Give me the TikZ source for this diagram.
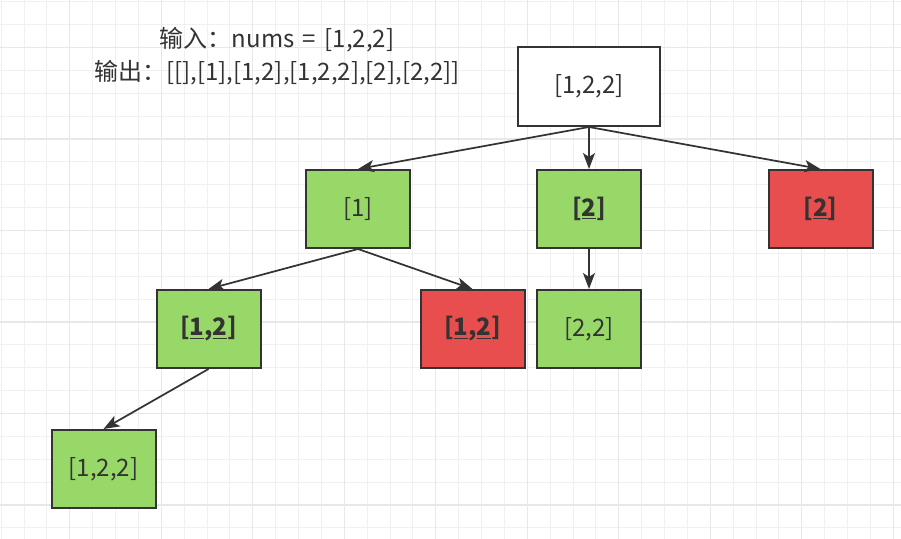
\documentclass[tikz,border=0pt]{standalone}
\usepackage{fontspec}
\setmainfont{Noto Sans CJK SC}
\usetikzlibrary{arrows.meta}
\definecolor{okfill}{HTML}{97D869}
\definecolor{cutfill}{HTML}{E84E4D}
\definecolor{edgeline}{HTML}{333333}
\definecolor{gridminor}{HTML}{F0F0F0}
\definecolor{gridmajor}{HTML}{E8E8E8}

\begin{document}
\begin{tikzpicture}[x=0.75pt,y=-0.75pt,
		box/.style={draw=edgeline,line width=1.5pt,minimum width=78pt,minimum height=58.5pt,inner sep=0pt,text=edgeline,font=\fontsize{18}{21}\selectfont},
		ok/.style={box,fill=okfill},
		cut/.style={box,fill=cutfill},
		link/.style={draw=edgeline,line width=1.3pt,-{Stealth[length=12pt,width=9pt,inset=3pt]}}]
		\useasboundingbox (0,0) rectangle (901,539);
		\foreach \i in {0,...,39}
			\draw[gridminor,line width=0.75pt] ({1.2+22.875*\i},0) -- ({1.2+22.875*\i},539);
		\foreach \i in {0,...,23}
			\draw[gridminor,line width=0.75pt] (0,{1.75+22.875*\i}) -- (901,{1.75+22.875*\i});
		\foreach \i in {3,7,...,39}
			\draw[gridmajor,line width=0.9pt] ({1.2+22.875*\i},0) -- ({1.2+22.875*\i},539);
		\foreach \i in {2,6,...,23}
			\draw[gridmajor,line width=0.9pt] (0,{1.75+22.875*\i}) -- (901,{1.75+22.875*\i});

		\draw (277,56.5) node [align=center,text=edgeline,font=\fontsize{18}{24.75}\selectfont] (io) {输入：nums\hspace{0.35em}=\hspace{0.35em}[1,2,2]\\输出：[[],[1],[1,2],[1,2,2],[2],[2,2]]};

		\draw (589,86.5) node [box,fill=white,minimum width=106.5pt,minimum height=59.25pt] (root) {[1,2,2]};
		\draw (358,209) node [ok] (a) {[1]};
		\draw (589,209) node [ok,font=\fontsize{18}{21}\selectfont\bfseries] (b) {[\underline{2}]};
		\draw (820.5,209) node [cut,font=\fontsize{18}{21}\selectfont\bfseries] (c) {[\underline{2}]};
		\draw (208.5,329) node [ok,font=\fontsize{18}{21}\selectfont\bfseries] (ab) {[\underline{1},\underline{2}]};
		\draw (472.5,329) node [cut,font=\fontsize{18}{21}\selectfont\bfseries] (ac) {[\underline{1},\underline{2}]};
		\draw (589,329) node [ok] (bb) {[2,2]};
		\draw (103.5,469) node [ok] (abb) {[1,2,2]};

		\draw
			(root.south) edge [link] (a.north)
			(root.south) edge [link] (b.north)
			(root.south) edge [link] (c.north)
			(a.south) edge [link] (ab.north)
			(a.south) edge [link] (ac.north)
			(b.south) edge [link] (bb.north)
			(ab.south) edge [link] (abb.north)
		;
	\end{tikzpicture}
\end{document}
